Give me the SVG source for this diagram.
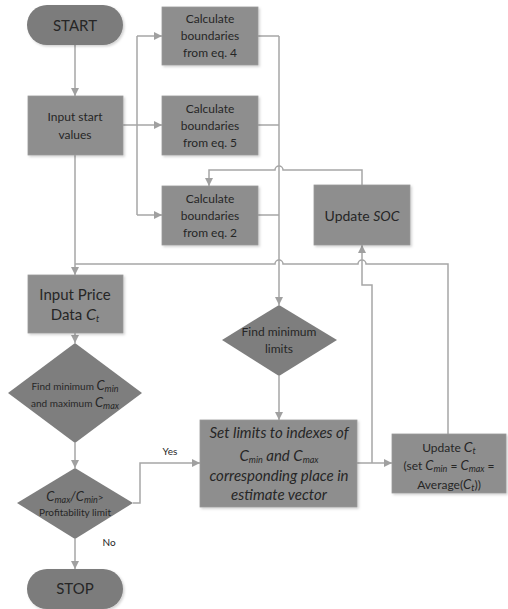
<svg xmlns="http://www.w3.org/2000/svg" width="508" height="609" viewBox="0 0 508 609">
<defs>
<marker id="arr" viewBox="0 0 10 10" refX="10" refY="5" markerWidth="8" markerHeight="8" markerUnits="userSpaceOnUse" orient="auto">
<path d="M0,0 L10,5 L0,10 z" fill="#a0a0a0"/>
</marker>
<filter id="sh" x="-10%" y="-10%" width="130%" height="130%">
<feDropShadow dx="1.5" dy="1.5" stdDeviation="1" flood-color="#000" flood-opacity="0.18"/>
</filter>
<style>
.box{fill:#8e8e8e;stroke:#9a9a9a;stroke-width:0.8;filter:url(#sh)}
.term{fill:#7b7b7b;filter:url(#sh)}
.dia{fill:#7e7e7e}
.ln{fill:none;stroke:#a6a6a6;stroke-width:1.5}
.la{fill:none;stroke:#a6a6a6;stroke-width:1.5;marker-end:url(#arr)}
text{font-family:Lato,"Open Sans","Liberation Sans",sans-serif;fill:#262626;text-anchor:middle}
.t12{font-size:12px}
.t15{font-size:15px}
.t10{font-size:10px}
.it{font-style:italic}
</style>
</defs>
<g id="connectors">
<path class="la" d="M75,45 V96"/>
<path class="la" d="M123,125 H162"/>
<path class="ln" d="M137,36 V215"/>
<path class="la" d="M137,36 H162"/>
<path class="la" d="M137,215 H162"/>
<path class="ln" d="M258,36 H279"/>
<path class="ln" d="M258,125 H279"/>
<path class="ln" d="M258,215 H279"/>
<path class="la" d="M279,36 V305"/>
<path class="la" d="M362,185 V170 H283 A4,4 0 0 0 275,170 H209 V186"/>
<path class="la" d="M75,155 V275"/>
<path class="ln" d="M448,434 V264 H366 A4,4 0 0 0 358,264 H283 A4,4 0 0 0 275,264 H75"/>
<path class="la" d="M75,333 V343"/>
<path class="la" d="M75,443 V468"/>
<path class="la" d="M133,503 H140 V463 H200"/>
<path class="la" d="M75,539 V569"/>
<path class="la" d="M279,376 V420"/>
<path class="la" d="M357,463 H392"/>
<path class="la" d="M372,463 V285 H362 V245"/>
<text class="t10" x="170" y="455">Yes</text>
<text class="t10" x="109" y="546">No</text>
</g>
<g id="start">
<rect class="term" x="27" y="5" width="96" height="40" rx="20"/>
<text class="t15" x="75" y="31">START</text>
</g>
<g id="input-start">
<rect class="box" x="28" y="96" width="95" height="59"/>
<text class="t12" x="75" y="121">Input start</text>
<text class="t12" x="75" y="139">values</text>
</g>
<g id="calc4">
<rect class="box" x="162" y="7" width="96" height="58"/>
<text class="t12" x="210" y="23">Calculate</text>
<text class="t12" x="210" y="40">boundaries</text>
<text class="t12" x="210" y="57">from eq. 4</text>
</g>
<g id="calc5">
<rect class="box" x="162" y="96" width="96" height="59"/>
<text class="t12" x="210" y="113">Calculate</text>
<text class="t12" x="210" y="130">boundaries</text>
<text class="t12" x="210" y="147">from eq. 5</text>
</g>
<g id="calc2">
<rect class="box" x="162" y="186" width="96" height="59"/>
<text class="t12" x="210" y="203">Calculate</text>
<text class="t12" x="210" y="220">boundaries</text>
<text class="t12" x="210" y="237">from eq. 2</text>
</g>
<g id="update-soc">
<rect class="box" x="314" y="185" width="96" height="60"/>
<text x="362" y="221" style="font-size:14px">Update <tspan class="it">SOC</tspan></text>
</g>
<g id="input-price">
<rect class="box" x="28" y="275" width="95" height="58"/>
<text class="t15" x="75" y="300">Input Price</text>
<text class="t15" x="75" y="320">Data <tspan class="it" style="font-size:16px">C</tspan><tspan class="it" style="font-size:9px" dy="2">t</tspan></text>
</g>
<g id="find-minmax">
<polygon class="dia" points="75,343 142,393 75,443 8,393"/>
<text x="75" y="390" style="font-size:10px">Find minimum <tspan class="it" style="font-size:13px">C</tspan><tspan class="it" style="font-size:9px" dy="2">min</tspan></text>
<text x="75" y="407" style="font-size:10px">and maximum <tspan class="it" style="font-size:13px">C</tspan><tspan class="it" style="font-size:9px" dy="2">max</tspan></text>
</g>
<g id="profit">
<polygon class="dia" points="75,468 133,503 75,539 17,503"/>
<text x="75" y="501" style="font-size:13px" class="it">C<tspan style="font-size:9px" dy="2">max</tspan><tspan dy="-2">/C</tspan><tspan style="font-size:9px" dy="2">min</tspan><tspan style="font-size:10px;font-style:normal" dy="-2">&gt;</tspan></text>
<text x="75" y="516" style="font-size:10px">Profitability limit</text>
</g>
<g id="stop">
<rect class="term" x="27" y="569" width="96" height="40" rx="20"/>
<text class="t15" x="75" y="594">STOP</text>
</g>
<g id="find-limits">
<polygon class="dia" points="279,305 337,340 279,376 222,340"/>
<text class="t12" x="279" y="336">Find minimum</text>
<text class="t12" x="279" y="353">limits</text>
</g>
<g id="set-limits">
<rect class="box" x="200" y="420" width="157" height="87"/>
<text class="it" x="279" y="438" style="font-size:15px">Set limits to indexes of</text>
<text class="it" x="279" y="461" style="font-size:15px">C<tspan style="font-size:9px" dy="2">min</tspan><tspan dy="-2"> and C</tspan><tspan style="font-size:9px" dy="2">max</tspan></text>
<text class="it" x="279" y="481" style="font-size:15px">corresponding place in</text>
<text class="it" x="279" y="500" style="font-size:15px">estimate vector</text>
</g>
<g id="update-ct">
<rect class="box" x="392" y="434" width="114" height="59"/>
<text class="t12" x="449" y="452">Update <tspan class="it" style="font-size:14px">C</tspan><tspan class="it" style="font-size:9px" dy="2">t</tspan></text>
<text class="t12" x="449" y="470">(set <tspan class="it" style="font-size:13px">C</tspan><tspan class="it" style="font-size:9px" dy="2">min</tspan><tspan dy="-2"> = </tspan><tspan class="it" style="font-size:13px">C</tspan><tspan class="it" style="font-size:9px" dy="2">max</tspan><tspan dy="-2"> =</tspan></text>
<text class="t12" x="449" y="489">Average(<tspan class="it" style="font-size:13px">C</tspan><tspan class="it" style="font-size:9px" dy="2">t</tspan><tspan dy="-2">))</tspan></text>
</g>
</svg>
